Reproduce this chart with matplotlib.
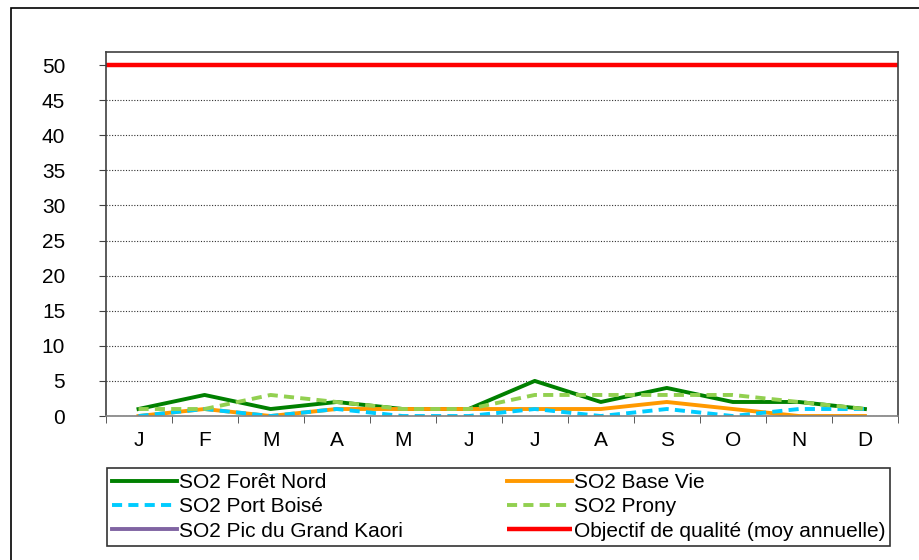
import numpy as np
import matplotlib.pyplot as plt
from matplotlib.patches import Rectangle

plt.rcParams['font.family'] = ['Liberation Sans', 'DejaVu Sans']

months = ["J", "F", "M", "A", "M", "J", "J", "A", "S", "O", "N", "D"]
foret_nord = [1, 3, 1, 2, 1, 1, 5, 2, 4, 2, 2, 1]
base_vie = [0, 1, 0, 1, 1, 1, 1, 1, 2, 1, 0, 0]
port_boise = [0, 1, 0, 1, 0, 0, 1, 0, 1, 0, 1, 1]
prony = [1, 1, 3, 2, 1, 1, 3, 3, 3, 3, 2, 1]
pic_kaori = [np.nan] * 12
objectif = [50] * 12

fig = plt.figure(figsize=(9.19, 5.6), dpi=100)
ax = fig.add_axes([0.1148, 0.2571, 0.8623, 0.65])

x = np.arange(len(months))
l1, = ax.plot(x, foret_nord, color='#008000', lw=2.8, label='SO2 Forêt Nord')
l2, = ax.plot(x, base_vie, color='#FF9900', lw=2.8, label='SO2 Base Vie')
l3, = ax.plot(x, port_boise, color='#00CCFF', lw=2.8, dashes=(2.6, 1.6), label='SO2 Port Boisé')
l4, = ax.plot(x, prony, color='#92D050', lw=2.8, dashes=(2.6, 1.6), label='SO2 Prony')
l5, = ax.plot(x, pic_kaori, color='#8064A2', lw=2.8, label='SO2 Pic du Grand Kaori')
# quality objective spans the full plot width
l6, = ax.plot([-0.5, 11.5], [objectif[0], objectif[-1]], color='#FF0000', lw=3.2,
              label='Objectif de qualité (moy annuelle)', solid_capstyle='butt')

ax.set_xlim(-0.5, 11.5)
ax.set_ylim(0, 51.85)
ax.set_yticks(range(0, 51, 5))
ax.yaxis.grid(True, color='#303030', lw=0.8, linestyle=(0, (1, 1.5)))
ax.set_axisbelow(True)
ax.set_xticks(x)
ax.set_xticklabels(months)
ax.set_xticks(np.arange(-0.5, 12, 1), minor=True)
ax.tick_params(axis='x', which='major', length=0, pad=11, labelsize=15)
ax.tick_params(axis='x', which='minor', length=5, direction='out', color='#404040')
ax.tick_params(axis='y', length=5, direction='out', pad=24, labelsize=15, color='#404040')
for s in ax.spines.values():
    s.set_color('#404040')
    s.set_linewidth(1.2)
ax.spines['bottom'].set_color('#808080')

# row-major order: column 1 = l1, l3, l5 ; column 2 = l2, l4, l6
handles = [l1, l3, l5, l2, l4, l6]
leg = fig.legend(handles, [h.get_label() for h in handles],
                 loc='upper left', bbox_to_anchor=(107 / 919, 1 - 468 / 560),
                 ncol=2, fontsize=15, frameon=True, fancybox=False,
                 edgecolor='black', handlelength=3.1, handletextpad=0.1,
                 borderaxespad=0, labelspacing=0.25, borderpad=0.25,
                 columnspacing=5.0)
leg.get_frame().set_linewidth(1.2)

fig.patches.append(Rectangle((0.012, -0.05), 1.1, 0.9857 + 0.05, transform=fig.transFigure,
                             fill=False, edgecolor='black', lw=1.2))

fig.savefig('out.png', dpi=100)
